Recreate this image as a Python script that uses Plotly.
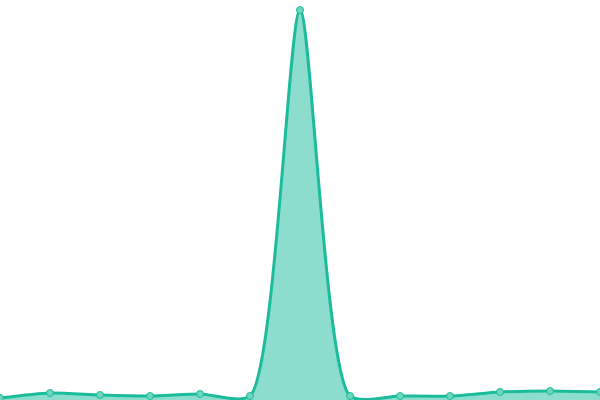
import plotly.graph_objects as go

# sample positions and values
x_vals = [0, 50, 100, 150, 200, 250, 300, 350, 400, 450, 500, 550, 600]
y_vals = [2, 7, 5, 4, 6, 4, 390, 4, 4, 4, 8, 9, 8]

line_color = "#1abc9c"

fig = go.Figure()
fig.add_trace(go.Scatter(
    x=x_vals, y=y_vals,
    mode="lines+markers",
    line=dict(color=line_color, width=3, shape="spline", smoothing=0.65),
    fill="tozeroy",
    fillcolor="rgba(26,188,156,0.5)",
    marker=dict(size=7, color="#6dd6bd", line=dict(color=line_color, width=1)),
    cliponaxis=False,
    hoverinfo="skip",
))

fig.update_layout(
    width=600, height=400,
    margin=dict(l=0, r=0, t=0, b=0),
    paper_bgcolor="white", plot_bgcolor="white",
    showlegend=False,
    xaxis=dict(range=[0, 600], visible=False, fixedrange=True),
    yaxis=dict(range=[0, 400], visible=False, fixedrange=True),
)

# drop the default page margin so the plot sits at the window corner
fig.write_html("out.html", config={"displayModeBar": False},
               post_script="document.body.style.margin='0';")
